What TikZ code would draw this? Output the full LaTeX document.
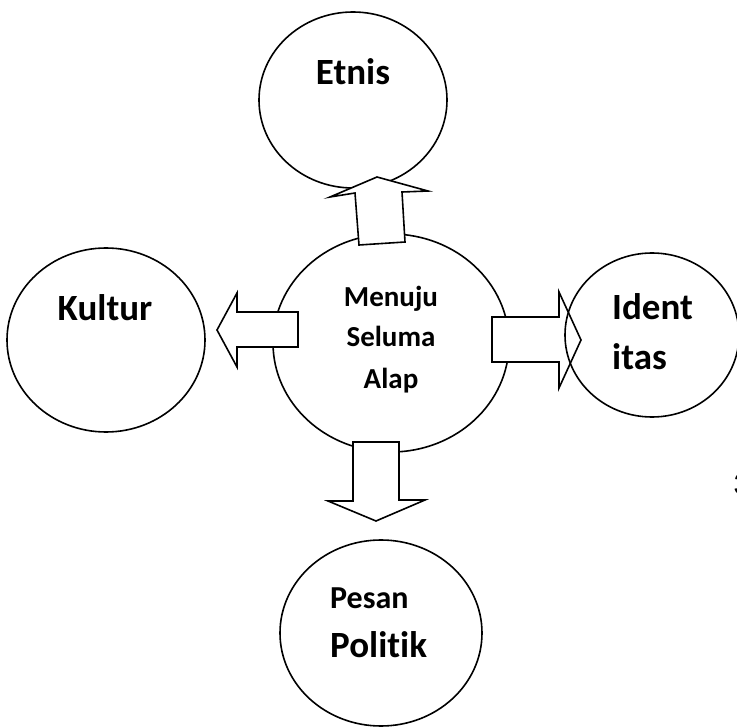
\documentclass[tikz,border=0pt]{standalone}
\usepackage{fontspec}
\setmainfont{Carlito}[Ligatures=NoCommon]
\usetikzlibrary{shapes.geometric}
\tikzset{
  bubble/.style={draw, ellipse, line width=1.6pt, inner sep=0pt},
  blockarrow/.style={draw, fill=white, line width=1.6pt, line join=miter},
  big/.style={font=\bfseries\fontsize{37}{42}\selectfont, inner sep=0pt, anchor=base},
  mid/.style={font=\bfseries\fontsize{29}{34}\selectfont, inner sep=0pt, anchor=base},
}
\begin{document}
\begin{tikzpicture}[x=1pt, y=-1pt]
\useasboundingbox (0,0) rectangle (737,727);
% circles
\node[bubble, minimum width=188pt, minimum height=176pt] (etnis) at (353,100) {};
\node[bubble, minimum width=198pt, minimum height=184pt] (kultur) at (106,340) {};
\node[bubble, minimum width=236pt, minimum height=218pt] (center) at (391,343) {};
\node[bubble, minimum width=202pt, minimum height=186pt] (politik) at (381,633) {};
% right arrow (under the Identitas circle)
\draw[blockarrow] (492,317) -- (559,317) -- (559,292) -- (581,340) -- (559,388) -- (559,362) -- (492,362) -- cycle;
\node[bubble, minimum width=174pt, minimum height=164pt] (identitas) at (652,335) {};
% up arrow
\draw[blockarrow] (377,177) -- (428,191) -- (402,192) -- (405,242) -- (359,245) -- (355,193) -- (330,197) -- cycle;
% left arrow
\draw[blockarrow] (217,330) -- (237,293) -- (237,312) -- (298,312) -- (298,347) -- (237,347) -- (237,367) -- cycle;
% down arrow
\draw[blockarrow] (353,442) -- (399,442) -- (399,500) -- (425,500) -- (376,521) -- (328,501) -- (353,501) -- cycle;
% texts
\node[big] (tetnis) at (353,85) {Etnis};
\node[big] (tkultur) at (105,321) {Kultur};
\node[big, anchor=base west] (tident) at (612,320) {Ident};
\node[big, anchor=base west] (titas) at (612,370) {itas};
\node[mid] (t1) at (391,307) {Menuju};
\node[mid] (t2) at (391,347) {Seluma};
\node[mid] (t3) at (391,389) {Alap};
\node[mid, font=\bfseries\fontsize{32}{36}\selectfont, anchor=base west] (tpesan) at (330,608) {Pesan};
\node[big, anchor=base west] (tpolitik) at (330,657) {Politik};
\node[mid, font=\fontsize{32}{36}\selectfont, anchor=base west] (pg) at (733,494) {3};
\end{tikzpicture}
\end{document}
